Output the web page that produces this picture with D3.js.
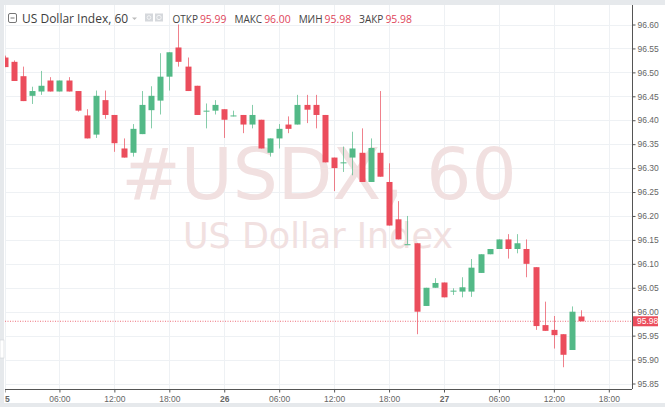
<!DOCTYPE html>
<html>
<head>
<meta charset="utf-8">
<script src="https://cdnjs.cloudflare.com/ajax/libs/d3/7.8.5/d3.min.js"></script>
<style>
  html, body { margin: 0; padding: 0; background: #e6e9ec; }
  svg { display: block; }
  .axis text { font-family: "Liberation Sans", Arial, sans-serif; font-size: 8.5px; fill: #666; }
  .axis path, .axis line { stroke: #555; }
</style>
</head>
<body>
<svg id="chart" width="665" height="407"></svg>
<script>
// hourly candles, 25th 00:00 onward
const opens = [96.531, 96.522, 96.492, 96.451, 96.460, 96.483, 96.460, 96.483, 96.461, 96.410,
  96.370, 96.442, 96.411, 96.341, 96.332, 96.371, 96.421, 96.441, 96.491, 96.552,
  96.512, 96.472, 96.420, 96.420, 96.423, 96.410, 96.411, 96.391, 96.401, 96.332,
  96.362, 96.391, 96.391, 96.432, 96.432, 96.411, 96.322, 96.312, 96.322, 96.332,
  96.271, 96.332, 96.271, 96.193, 96.141, 96.143, 96.012, 96.050, 96.061, 96.044,
  96.042, 96.042, 96.081, 96.120, 96.131, 96.151, 96.131, 96.131, 96.093, 95.972,
  95.962, 95.953, 95.920, 95.990];
const highs = [96.535, 96.525, 96.512, 96.470, 96.503, 96.490, 96.483, 96.490, 96.461, 96.423,
  96.462, 96.462, 96.411, 96.362, 96.392, 96.461, 96.471, 96.540, 96.542, 96.600,
  96.531, 96.472, 96.435, 96.442, 96.423, 96.420, 96.411, 96.432, 96.401, 96.362,
  96.392, 96.408, 96.453, 96.453, 96.453, 96.411, 96.322, 96.345, 96.376, 96.383,
  96.362, 96.461, 96.310, 96.231, 96.200, 96.143, 96.050, 96.070, 96.061, 96.049,
  96.072, 96.110, 96.120, 96.131, 96.151, 96.162, 96.162, 96.151, 96.093, 96.021,
  95.991, 95.953, 96.011, 96.003];
const lows = [96.511, 96.482, 96.440, 96.434, 96.453, 96.460, 96.460, 96.460, 96.418, 96.362,
  96.363, 96.403, 96.334, 96.322, 96.324, 96.371, 96.383, 96.412, 96.462, 96.512,
  96.461, 96.411, 96.383, 96.412, 96.363, 96.408, 96.373, 96.383, 96.341, 96.324,
  96.341, 96.373, 96.391, 96.394, 96.383, 96.312, 96.252, 96.292, 96.285, 96.271,
  96.271, 96.282, 96.180, 96.151, 96.141, 95.953, 96.012, 96.050, 96.030, 96.035,
  96.030, 96.031, 96.081, 96.120, 96.131, 96.111, 96.122, 96.072, 95.962, 95.960,
  95.923, 95.884, 95.920, 95.980];
const closes = [96.511, 96.482, 96.440, 96.461, 96.472, 96.460, 96.483, 96.460, 96.420, 96.362,
  96.451, 96.411, 96.352, 96.322, 96.382, 96.432, 96.451, 96.491, 96.542, 96.522,
  96.461, 96.411, 96.420, 96.432, 96.401, 96.410, 96.391, 96.411, 96.341, 96.362,
  96.382, 96.382, 96.432, 96.422, 96.411, 96.312, 96.300, 96.312, 96.341, 96.271,
  96.342, 96.282, 96.180, 96.151, 96.141, 96.000, 96.050, 96.060, 96.030, 96.044,
  96.051, 96.092, 96.120, 96.131, 96.151, 96.131, 96.143, 96.100, 95.970, 95.960,
  95.951, 95.910, 96.000, 95.980];

const priceTicks = [95.85, 95.90, 95.95, 96.00, 96.05, 96.10, 96.15, 96.20, 96.25,
  96.30, 96.35, 96.40, 96.45, 96.50, 96.55, 96.60];
const headerItems = [["ОТКР", "95.99"], ["МАКС", "96.00"], ["МИН", "95.98"], ["ЗАКР", "95.98"]];
const lastPrice = 95.98;
const title = "US Dollar Index, 60";
const watermark = "#USDX, 60";
const watermarkSub = "US Dollar Index";

const UP = "#53b987", DOWN = "#eb4d5c";
const svg = d3.select("#chart");
const plot = { left: 5, top: 5, right: 632, bottom: 389 };

const t0 = new Date(Date.UTC(2018, 8, 25, 0));
const hour = 3600 * 1000;
const candles = opens.map((o, i) => ({
  t: new Date(t0.getTime() + i * hour),
  o, h: highs[i], l: lows[i], c: closes[i]
}));

const x = d3.scaleUtc()
  .domain([t0, new Date(t0.getTime() + 66 * hour)])
  .range([4.5, 608.8]);
const y = d3.scaleLinear().domain([95.85, 96.60]).range([383.5, 24.5]);
const xTicks = d3.range(0, 67, 6).map((h) => new Date(t0.getTime() + h * hour));

// panel background
svg.append("rect").attr("x", 4).attr("y", 5).attr("width", 661).attr("height", 398).attr("fill", "#fff");
svg.append("rect").attr("x", 0).attr("y", 340).attr("width", 4).attr("height", 18)
  .attr("fill", "#fff").attr("stroke", "#cfd3d8").attr("stroke-width", 0.6);

svg.append("clipPath").attr("id", "plotclip").append("rect")
  .attr("x", plot.left).attr("y", plot.top)
  .attr("width", plot.right - plot.left).attr("height", plot.bottom - plot.top);

const g = svg.append("g").attr("clip-path", "url(#plotclip)");

// grid
g.selectAll("line.hgrid").data(priceTicks).enter().append("line")
  .attr("class", "hgrid")
  .attr("x1", plot.left).attr("x2", plot.right)
  .attr("y1", (d) => Math.round(y(d)) + 0.5).attr("y2", (d) => Math.round(y(d)) + 0.5)
  .attr("stroke", "#eef1f4");
g.selectAll("line.vgrid").data(xTicks).enter().append("line")
  .attr("class", "vgrid")
  .attr("y1", plot.top).attr("y2", plot.bottom)
  .attr("x1", (d) => Math.round(x(d)) + 0.5).attr("x2", (d) => Math.round(x(d)) + 0.5)
  .attr("stroke", "#eef1f4");

// watermark
g.append("text")
  .attr("x", 319).attr("y", 199)
  .attr("text-anchor", "middle")
  .attr("font-family", "DejaVu Sans, sans-serif")
  .attr("font-size", 71)
  .attr("fill", "#f1e0e0")
  .text(watermark);
g.append("text")
  .attr("x", 318).attr("y", 248)
  .attr("text-anchor", "middle")
  .attr("font-family", "DejaVu Sans, sans-serif")
  .attr("font-size", 35)
  .attr("fill", "#f1e0e0")
  .text(watermarkSub);

// last price line
g.append("line")
  .attr("x1", plot.left).attr("x2", plot.right)
  .attr("y1", y(lastPrice)).attr("y2", y(lastPrice))
  .attr("stroke", DOWN).attr("stroke-width", 1)
  .attr("stroke-dasharray", "1,1.5").attr("opacity", 0.8);

// candles
const bw = 6;
const cg = g.selectAll("g.candle").data(candles).enter().append("g").attr("class", "candle");
cg.append("line")
  .attr("x1", (d) => Math.round(x(d.t)) + 0.5).attr("x2", (d) => Math.round(x(d.t)) + 0.5)
  .attr("y1", (d) => y(d.h)).attr("y2", (d) => y(d.l))
  .attr("stroke", (d) => (d.c >= d.o ? UP : DOWN))
  .attr("opacity", 0.7);
cg.append("rect")
  .attr("x", (d) => Math.round(x(d.t)) + 0.5 - bw / 2)
  .attr("y", (d) => y(Math.max(d.o, d.c)))
  .attr("width", bw)
  .attr("height", (d) => Math.max(1, Math.abs(y(d.o) - y(d.c))))
  .attr("fill", (d) => (d.c >= d.o ? UP : DOWN));

// axes
const yAxis = d3.axisRight(y).tickValues(priceTicks).tickSize(3).tickPadding(2)
  .tickFormat(d3.format(".2f"));
svg.append("g").attr("class", "axis")
  .attr("transform", `translate(${plot.right + 0.5},0)`)
  .call(yAxis)
  .call((a) => a.select(".domain").attr("d", `M0,${plot.top}V${plot.bottom}`));

const fmtTick = (d) => (d.getUTCHours() === 0 ? d3.utcFormat("%-d")(d) : d3.utcFormat("%H:%M")(d));
svg.append("clipPath").attr("id", "xclip").append("rect")
  .attr("x", plot.left).attr("y", plot.bottom - 2).attr("width", 660).attr("height", 20);
const xAxis = d3.axisBottom(x).tickValues(xTicks).tickSize(3).tickPadding(3).tickFormat(fmtTick);
const xa = svg.append("g").attr("clip-path", "url(#xclip)")
  .append("g").attr("class", "axis")
  .attr("transform", `translate(0,${plot.bottom + 0.5})`)
  .call(xAxis);
xa.select(".domain").attr("d", `M${plot.left},0H${plot.right}`);
xa.selectAll(".tick text")
  .attr("font-weight", (d) => (d.getUTCHours() === 0 ? "bold" : null))
  .attr("fill", (d) => (d.getUTCHours() === 0 ? "#444" : "#666"));

// last price label
const lp = svg.append("g").attr("transform", `translate(${plot.right + 1},${y(lastPrice)})`);
lp.append("rect").attr("x", 0).attr("y", -5).attr("width", 25).attr("height", 10).attr("fill", DOWN);
lp.append("text").attr("x", 4).attr("y", 3.2)
  .attr("font-family", "Liberation Sans, Arial, sans-serif").attr("font-size", 8.5)
  .attr("fill", "#fff").text(lastPrice.toFixed(2));

// header
const hd = svg.append("g");
hd.append("rect").attr("x", 8.5).attr("y", 13.5).attr("width", 8).attr("height", 9).attr("rx", 1.5)
  .attr("fill", "none").attr("stroke", "#777");
hd.append("line").attr("x1", 10.5).attr("x2", 14.5).attr("y1", 18).attr("y2", 18).attr("stroke", "#777");
hd.append("text").attr("x", 22).attr("y", 23)
  .attr("font-family", "Open Sans, sans-serif").attr("font-size", 12).attr("fill", "#3d3d3d")
  .text(title);
hd.append("path").attr("d", "M132,17.5 h5 l-2.5,2.5z").attr("fill", "#bbb");
[145, 155].forEach((px, i) => {
  hd.append("rect").attr("x", px).attr("y", 13.5).attr("width", 8).attr("height", 8).attr("fill", "#d5d8dc");
  hd.append("circle").attr("cx", px + 4).attr("cy", 17.5).attr("r", i ? 2.2 : 1.8)
    .attr("fill", "none").attr("stroke", "#f4f5f6").attr("stroke-width", 1);
});
// flow the OHLC labels left to right
let cx = 172.5;
headerItems.forEach(([lab, val]) => {
  const lt = hd.append("text").attr("x", cx).attr("y", 23)
    .attr("font-family", "Open Sans, sans-serif").attr("font-size", 10).attr("fill", "#444")
    .text(lab);
  cx += lt.node().getComputedTextLength() + 2;
  const vt = hd.append("text").attr("x", cx).attr("y", 23)
    .attr("font-family", "Open Sans, sans-serif").attr("font-size", 10.4).attr("fill", "#e0455a")
    .text(val);
  cx += vt.node().getComputedTextLength() + 8;
});
</script>
</body>
</html>
